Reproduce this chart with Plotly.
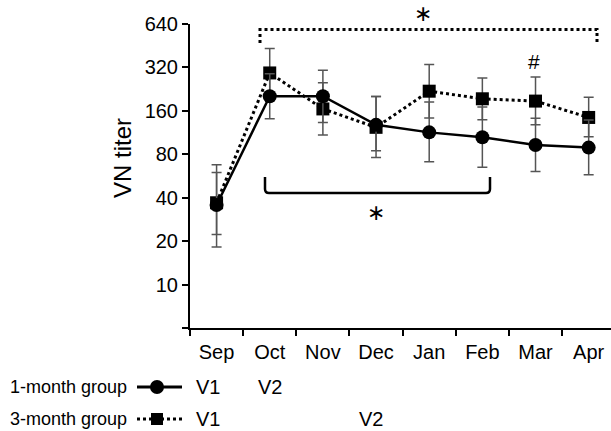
import plotly.graph_objects as go
import math

months = ["Sep", "Oct", "Nov", "Dec", "Jan", "Feb", "Mar", "Apr"]

# 1-month group (circles, solid)
one_mean = [35.6, 202, 202, 128, 113.5, 105, 92.7, 89]
one_hi = [59.7, 289, 306, 201, 184, 170, 142, 138]
one_lo = [22.2, 141, 133, 84.6, 71, 65, 60.7, 57.6]

# 3-month group (squares, dotted)
three_mean = [36.9, 293, 165, 123, 219, 194, 187, 144]
three_hi = [67.6, 433, 251, 201, 335, 270, 275, 199]
three_lo = [18.2, 198, 109, 76, 143, 139, 128, 106]

y_tickvals = [5, 10, 20, 40, 80, 160, 320, 640]
y_ticktext = ["", "10", "20", "40", "80", "160", "320", "640"]

FONT = "Liberation Sans, Arial, sans-serif"
ERR = "#555555"

# plot geometry (pixels)
W, H = 611, 431
L, R, T, B = 190, 0, 24, 103
PW, PH = W - L - R, H - T - B
X0, X1 = -0.5, 7.42


def px(xpix):
    return (xpix - L) / PW


def py(ypix):
    return (H - B - ypix) / PH


def err(mean, hi, lo):
    return dict(type="data", symmetric=False,
                array=[h - m for h, m in zip(hi, mean)],
                arrayminus=[m - l for m, l in zip(mean, lo)],
                color=ERR, thickness=1.5, width=5)


fig = go.Figure()
fig.add_trace(go.Scatter(
    x=months, y=three_mean, mode="lines+markers",
    line=dict(color="black", width=3, dash="dot"),
    marker=dict(symbol="square", size=13, color="black"),
    error_y=err(three_mean, three_hi, three_lo), showlegend=False))
fig.add_trace(go.Scatter(
    x=months, y=one_mean, mode="lines+markers",
    line=dict(color="black", width=2.5),
    marker=dict(symbol="circle", size=14, color="black"),
    error_y=err(one_mean, one_hi, one_lo), showlegend=False))

shapes = []
# top dotted bracket
shapes.append(dict(type="path", xref="paper", yref="paper",
                   path=f"M {px(260)} {py(43)} L {px(260)} {py(29.5)} L {px(597)} {py(29.5)} L {px(597)} {py(43)}",
                   line=dict(color="black", width=3, dash="dot")))
# bottom solid bracket with rounded corners
shapes.append(dict(type="path", xref="paper", yref="paper",
                   path=(f"M {px(265)} {py(177)} L {px(265)} {py(189)} Q {px(265)} {py(193)} {px(269)} {py(193)} "
                         f"L {px(486)} {py(193)} Q {px(490)} {py(193)} {px(490)} {py(189)} L {px(490)} {py(177)}"),
                   line=dict(color="black", width=2.5)))
# legend symbols
shapes.append(dict(type="line", xref="paper", yref="paper",
                   x0=px(137), x1=px(182), y0=py(387), y1=py(387),
                   line=dict(color="black", width=3)))
shapes.append(dict(type="circle", xref="paper", yref="paper",
                   x0=px(150), x1=px(164), y0=py(380), y1=py(394),
                   fillcolor="black", line=dict(color="black", width=0)))
shapes.append(dict(type="line", xref="paper", yref="paper",
                   x0=px(137), x1=px(182), y0=py(419), y1=py(419),
                   line=dict(color="black", width=3, dash="dot")))
shapes.append(dict(type="rect", xref="paper", yref="paper",
                   x0=px(151), x1=px(163), y0=py(413), y1=py(425),
                   fillcolor="black", line=dict(color="black", width=0)))

ann = []
ann.append(dict(text="VN titer", xref="paper", yref="paper", x=px(122), y=py(158),
                textangle=-90, showarrow=False, xanchor="center", yanchor="middle",
                font=dict(size=24, family=FONT, color="black")))
ann.append(dict(text="∗", xref="paper", yref="paper", x=px(423), y=py(14),
                showarrow=False, xanchor="center", yanchor="middle",
                font=dict(size=22, family="DejaVu Sans", color="black")))
ann.append(dict(text="∗", xref="paper", yref="paper", x=px(376), y=py(212),
                showarrow=False, xanchor="center", yanchor="middle",
                font=dict(size=22, family="DejaVu Sans", color="black")))
ann.append(dict(text="#", xref="paper", yref="paper", x=px(534), y=py(61),
                showarrow=False, xanchor="center", yanchor="middle",
                font=dict(size=21, family=FONT, color="black")))
# bottom legend-like labels
ann.append(dict(text="1-month group", xref="paper", yref="paper", x=px(129), y=py(387),
                showarrow=False, xanchor="right", yanchor="middle",
                font=dict(size=18, family=FONT, color="black")))
ann.append(dict(text="3-month group", xref="paper", yref="paper", x=px(129), y=py(419),
                showarrow=False, xanchor="right", yanchor="middle",
                font=dict(size=18, family=FONT, color="black")))
for txt, xp, yp in [("V1", 208, 387), ("V2", 270, 387), ("V1", 208, 419), ("V2", 371, 419)]:
    ann.append(dict(text=txt, xref="paper", yref="paper", x=px(xp), y=py(yp),
                    showarrow=False, xanchor="center", yanchor="middle",
                    font=dict(size=20, family=FONT, color="black")))

fig.update_layout(
    width=W, height=H,
    margin=dict(l=L, r=R, t=T, b=B, pad=0),
    plot_bgcolor="white", paper_bgcolor="white",
    font=dict(family=FONT, size=20, color="black"),
    shapes=shapes, annotations=ann,
    xaxis=dict(type="category", categoryorder="array", categoryarray=months,
               range=[X0, X1], tickson="boundaries", ticks="outside", ticklen=6,
               tickwidth=2, tickcolor="black", showline=True, linecolor="black",
               linewidth=2, showgrid=False, zeroline=False, ticklabelstandoff=5,
               tickfont=dict(size=20, family=FONT, color="black")),
    yaxis=dict(type="log", range=[math.log10(5), math.log10(640)],
               tickvals=y_tickvals, ticktext=y_ticktext, ticks="outside", ticklen=6,
               tickwidth=2, tickcolor="black", showline=True, linecolor="black",
               linewidth=2, showgrid=False, zeroline=False,
               tickfont=dict(size=20, family=FONT, color="black")),
)

fig.write_html("out.html", config={"displayModeBar": False},
               post_script="document.body.style.margin='0px';document.body.style.overflow='hidden';")
